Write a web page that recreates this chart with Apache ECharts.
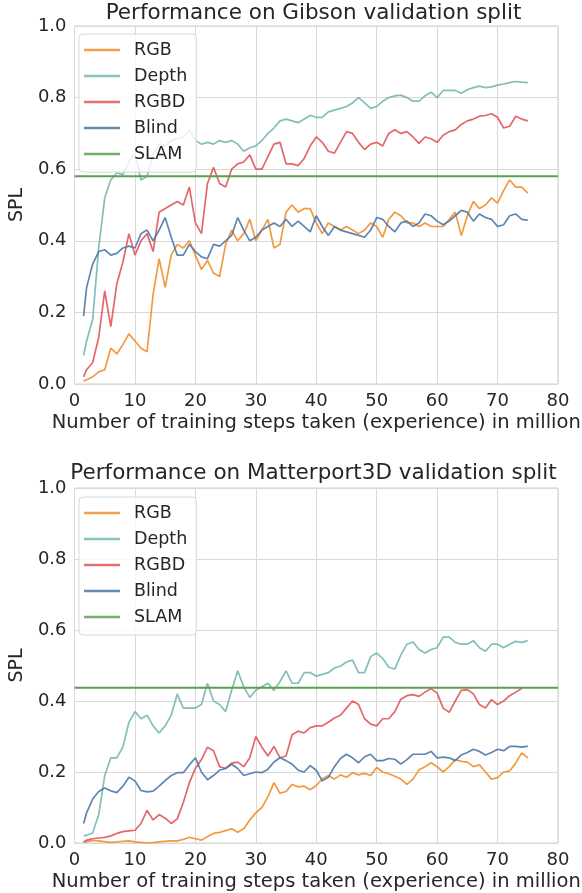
<!DOCTYPE html>
<html>
<head>
<meta charset="utf-8">
<script src="https://cdn.jsdelivr.net/npm/echarts@6/dist/echarts.min.js"></script>
<style>html,body{margin:0;padding:0;background:#fff;}#c{width:582px;height:893px;}</style>
</head>
<body>
<div id="c"></div>
<script>
// training steps (millions)
const steps = [1.5,2,3,4,5,6,7,8,9,10,11,12,13,14,15,16,17,18,19,20,21,22,23,24,25,26,27,28,29,30,31,32,33,34,35,36,37,38,39,40,41,42,43,44,45,46,47,48,49,50,51,52,53,54,55,56,57,58,59,60,61,62,63,64,65,66,67,68,69,70,71,72,73,74,75];

// Gibson
const gibsonRGB = [0.008,0.012,0.02,0.034,0.04,0.1,0.084,0.11,0.14,0.12,0.1,0.09,0.25,0.35,0.27,0.36,0.39,0.38,0.4,0.36,0.32,0.345,0.31,0.3,0.39,0.43,0.4,0.42,0.46,0.4,0.43,0.46,0.38,0.39,0.48,0.5,0.48,0.49,0.49,0.45,0.42,0.45,0.44,0.43,0.44,0.43,0.42,0.43,0.45,0.44,0.41,0.46,0.48,0.47,0.45,0.45,0.44,0.45,0.44,0.44,0.44,0.46,0.48,0.415,0.47,0.51,0.49,0.5,0.52,0.505,0.54,0.57,0.55,0.55,0.533];
const gibsonDepth = [0.08,0.12,0.18,0.38,0.52,0.57,0.59,0.585,0.62,0.645,0.57,0.58,0.64,0.67,0.665,0.68,0.685,0.69,0.71,0.68,0.67,0.675,0.67,0.68,0.675,0.68,0.67,0.65,0.66,0.665,0.68,0.7,0.715,0.735,0.74,0.735,0.73,0.74,0.75,0.745,0.745,0.76,0.765,0.77,0.775,0.785,0.8,0.785,0.77,0.775,0.79,0.8,0.805,0.807,0.8,0.79,0.79,0.805,0.815,0.8,0.82,0.82,0.82,0.812,0.822,0.828,0.832,0.828,0.83,0.835,0.838,0.842,0.845,0.843,0.842];
const gibsonRGBD = [0.02,0.04,0.06,0.13,0.26,0.16,0.28,0.34,0.42,0.36,0.4,0.42,0.37,0.48,0.49,0.5,0.51,0.5,0.55,0.45,0.42,0.56,0.605,0.56,0.55,0.6,0.615,0.62,0.64,0.6,0.6,0.635,0.67,0.675,0.615,0.615,0.61,0.63,0.665,0.69,0.675,0.65,0.645,0.675,0.705,0.7,0.675,0.655,0.67,0.675,0.665,0.7,0.71,0.7,0.705,0.69,0.672,0.69,0.685,0.675,0.695,0.705,0.71,0.725,0.735,0.74,0.748,0.75,0.755,0.745,0.715,0.72,0.748,0.74,0.735];
const gibsonBlind = [0.19,0.27,0.335,0.37,0.375,0.36,0.365,0.38,0.385,0.38,0.42,0.43,0.4,0.43,0.465,0.41,0.36,0.36,0.39,0.37,0.355,0.35,0.39,0.385,0.4,0.415,0.465,0.43,0.4,0.41,0.43,0.44,0.45,0.44,0.46,0.44,0.455,0.44,0.425,0.47,0.44,0.415,0.44,0.43,0.425,0.42,0.415,0.41,0.43,0.465,0.46,0.44,0.425,0.45,0.455,0.44,0.45,0.475,0.47,0.455,0.445,0.455,0.47,0.485,0.48,0.455,0.475,0.465,0.46,0.44,0.445,0.47,0.475,0.46,0.458];
const gibsonSLAM = 0.58;

// Matterport3D
const mpRGB = [0.002,0.004,0.007,0.006,0.004,0.002,0.003,0.005,0.006,0.003,0.002,0.0,0.001,0.003,0.005,0.006,0.006,0.01,0.016,0.012,0.008,0.018,0.027,0.03,0.035,0.04,0.03,0.04,0.065,0.085,0.1,0.13,0.17,0.14,0.145,0.165,0.158,0.16,0.15,0.162,0.18,0.19,0.18,0.192,0.185,0.198,0.192,0.196,0.19,0.213,0.2,0.195,0.188,0.18,0.165,0.18,0.206,0.215,0.226,0.215,0.2,0.215,0.235,0.23,0.228,0.215,0.22,0.2,0.18,0.184,0.2,0.203,0.225,0.254,0.24];
const mpDepth = [0.02,0.022,0.028,0.08,0.19,0.24,0.24,0.27,0.34,0.37,0.35,0.36,0.33,0.31,0.33,0.36,0.42,0.38,0.38,0.38,0.39,0.45,0.4,0.39,0.37,0.43,0.485,0.44,0.41,0.43,0.44,0.45,0.43,0.455,0.485,0.45,0.45,0.48,0.48,0.47,0.475,0.48,0.493,0.498,0.51,0.515,0.48,0.48,0.525,0.535,0.52,0.495,0.49,0.53,0.56,0.566,0.545,0.535,0.545,0.55,0.58,0.58,0.565,0.56,0.56,0.57,0.55,0.54,0.56,0.56,0.55,0.56,0.568,0.565,0.57];
const mpRGBD = [0.003,0.008,0.012,0.014,0.016,0.02,0.027,0.032,0.034,0.036,0.055,0.092,0.065,0.08,0.07,0.055,0.068,0.114,0.17,0.21,0.235,0.27,0.26,0.215,0.21,0.225,0.228,0.215,0.24,0.3,0.27,0.245,0.272,0.24,0.245,0.305,0.315,0.31,0.325,0.33,0.33,0.34,0.352,0.36,0.38,0.4,0.39,0.35,0.335,0.33,0.35,0.35,0.37,0.405,0.415,0.418,0.413,0.425,0.435,0.422,0.38,0.368,0.4,0.43,0.432,0.42,0.39,0.38,0.404,0.39,0.4,0.415,0.425,0.435];
const mpBlind = [0.055,0.085,0.124,0.145,0.155,0.147,0.142,0.16,0.185,0.175,0.148,0.144,0.146,0.16,0.176,0.19,0.198,0.198,0.22,0.24,0.2,0.178,0.19,0.205,0.21,0.222,0.21,0.19,0.195,0.2,0.198,0.208,0.228,0.24,0.232,0.222,0.205,0.2,0.218,0.205,0.175,0.185,0.215,0.238,0.25,0.24,0.226,0.243,0.25,0.232,0.232,0.238,0.236,0.222,0.235,0.25,0.25,0.25,0.258,0.24,0.242,0.24,0.232,0.248,0.255,0.264,0.258,0.248,0.255,0.264,0.26,0.272,0.272,0.27,0.273];
const mpSLAM = 0.437;

const titles = ['Performance on Gibson validation split', 'Performance on Matterport3D validation split'];
const names = ['RGB', 'Depth', 'RGBD', 'Blind', 'SLAM'];
const xTicks = [0, 80, 10];
const yTicks = [0, 1, 0.2];
const xLabel = 'Number of training steps taken (experience) in million';
const yLabel = 'SPL';

const colors = {RGB:'#f28e2b', Depth:'#76b7b2', RGBD:'#e15759', Blind:'#4e79a7', SLAM:'#59a14f'};
const FONT = 'DejaVu Sans';
const TXT = '#262626';

function pairs(vals){ return vals.map((v,i)=>[steps[i], v]); }

const panels = [
  {top:26, height:358, data:{RGB:gibsonRGB, Depth:gibsonDepth, RGBD:gibsonRGBD, Blind:gibsonBlind}, slam:gibsonSLAM, titleTop:2, legendTop:34},
  {top:488, height:356, data:{RGB:mpRGB, Depth:mpDepth, RGBD:mpRGBD, Blind:mpBlind}, slam:mpSLAM, titleTop:462, legendTop:497}
];

const option = {
  backgroundColor:'#ffffff',
  animation:false,
  title:[], grid:[], xAxis:[], yAxis:[], legend:[], series:[]
};

panels.forEach((p, k) => {
  option.title.push({text:titles[k], left:313.5, top:p.titleTop, textAlign:'center', padding:0,
    textStyle:{fontFamily:FONT, fontSize:21.5, fontWeight:'normal', color:TXT}});
  option.grid.push({left:69, width:489, top:p.top, height:p.height, show:true, borderColor:'#d0d0d0', borderWidth:1, backgroundColor:'transparent'});
  option.xAxis.push({type:'value', gridIndex:k, min:xTicks[0], max:xTicks[1], interval:xTicks[2],
    name:xLabel, nameLocation:'middle', nameGap:29,
    nameTextStyle:{fontFamily:FONT, fontSize:19.5, color:TXT},
    axisLine:{show:false}, axisTick:{show:false},
    axisLabel:{fontFamily:FONT, fontSize:18, color:TXT, margin:8},
    splitLine:{show:true, lineStyle:{color:'#d9d9d9', width:1}}});
  option.yAxis.push({type:'value', gridIndex:k, min:yTicks[0], max:yTicks[1], interval:yTicks[2],
    name:yLabel, nameLocation:'middle', nameGap:39,
    nameTextStyle:{fontFamily:FONT, fontSize:19, color:TXT},
    axisLine:{show:false}, axisTick:{show:false},
    axisLabel:{fontFamily:FONT, fontSize:18, color:TXT, margin:8, formatter:v=>v.toFixed(1)},
    splitLine:{show:true, lineStyle:{color:'#d9d9d9', width:1}}});
  option.legend.push({orient:'vertical', left:79, top:p.legendTop, data:names, icon:'rect',
    itemWidth:36, itemHeight:2.5, itemGap:6, padding:[6,9,8,5],
    backgroundColor:'rgba(255,255,255,0.8)', borderColor:'#d8d8d8', borderWidth:1, borderRadius:4,
    itemStyle:{opacity:0.85},
    textStyle:{fontFamily:FONT, fontSize:17.5, color:TXT, lineHeight:20, padding:[0,0,0,9]}});
  ['RGB','Depth','RGBD','Blind'].forEach(n => {
    option.series.push({type:'line', name:n, xAxisIndex:k, yAxisIndex:k, data:pairs(p.data[n]),
      symbol:'none', showSymbol:false, color:colors[n],
      lineStyle:{width:1.7, color:colors[n], opacity:0.9}});
  });
  option.series.push({type:'line', name:'SLAM', xAxisIndex:k, yAxisIndex:k,
    data:[[xTicks[0], p.slam],[xTicks[1], p.slam]],
    symbol:'none', showSymbol:false, color:colors.SLAM, lineStyle:{width:2, color:colors.SLAM}});
});

const chart = echarts.init(document.getElementById('c'), null, {renderer:'canvas'});
chart.setOption(option);
</script>
</body>
</html>
